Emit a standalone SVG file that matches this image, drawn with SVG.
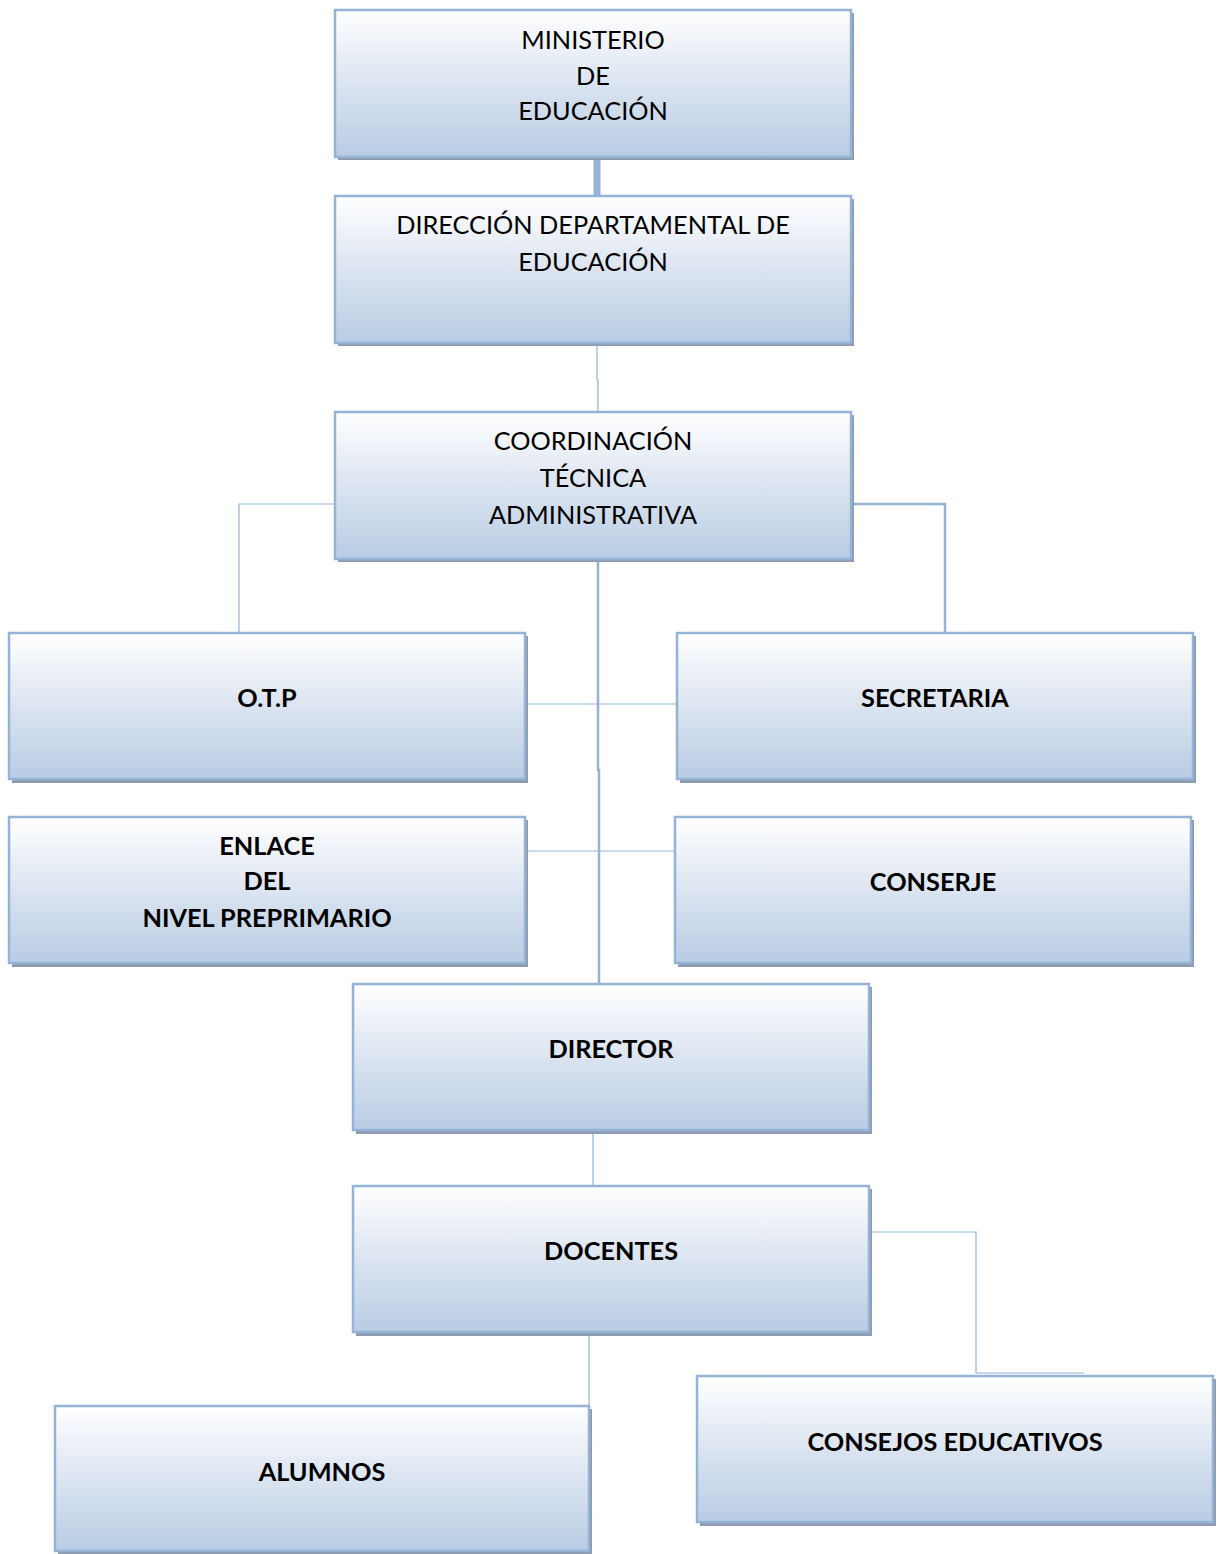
<svg xmlns="http://www.w3.org/2000/svg" width="1218" height="1554" viewBox="0 0 1218 1554">
<defs>
<linearGradient id="g" x1="0" y1="0" x2="0" y2="1">
<stop offset="0" stop-color="#ffffff"/>
<stop offset="0.45" stop-color="#dfe7f2"/>
<stop offset="1" stop-color="#b8cce4"/>
</linearGradient>
</defs>
<style>
.sh{fill:#8e9cb1}
.bx{fill:url(#g);stroke:#95b3d7;stroke-width:2.5}
.t{font-family:Lato,"Liberation Sans",sans-serif;font-size:25.3px;fill:#000;text-anchor:middle}
.b{font-weight:bold}
.c{fill:none;stroke:#95b3d7;stroke-width:1.2}
.c2{fill:none;stroke:#95b3d7;stroke-width:2.5}
</style>
<g id="connectors">
<path d="M597 158V197" fill="none" stroke="#95b3d7" stroke-width="7"/>
<path class="c" d="M597 345V380H598V412"/>
<path class="c" d="M335 504H239V633"/>
<path class="c2" d="M853 504H945V633"/>
<path class="c2" d="M598 561V770H599V984"/>
<path class="c" d="M527 704H677"/>
<path class="c" d="M527 851H675"/>
<path class="c" d="M593 1133V1186"/>
<path class="c" d="M589 1335V1406"/>
<path class="c" d="M871 1232H976V1373H1084"/>
</g>
<g id="n1"><rect class="sh" x="338" y="13" width="516" height="147"/><rect class="bx" x="335" y="10" width="516" height="147"/>
<text class="t" x="593" y="49">MINISTERIO</text><text class="t" x="593" y="85">DE</text><text class="t" x="593" y="120">EDUCACIÓN</text></g>
<g id="n2"><rect class="sh" x="338" y="199" width="516" height="147"/><rect class="bx" x="335" y="196" width="516" height="147"/>
<text class="t" x="593" y="234">DIRECCIÓN DEPARTAMENTAL DE</text><text class="t" x="593" y="271">EDUCACIÓN</text></g>
<g id="n3"><rect class="sh" x="338" y="415" width="516" height="147"/><rect class="bx" x="335" y="412" width="516" height="147"/>
<text class="t" x="593" y="450">COORDINACIÓN</text><text class="t" x="593" y="487">TÉCNICA</text><text class="t" x="593" y="524">ADMINISTRATIVA</text></g>
<g id="n4"><rect class="sh" x="12" y="636" width="516" height="147"/><rect class="bx" x="9" y="633" width="516" height="146"/>
<text class="t b" x="267" y="707">O.T.P</text></g>
<g id="n5"><rect class="sh" x="680" y="636" width="516" height="147"/><rect class="bx" x="677" y="633" width="516" height="146"/>
<text class="t b" x="935" y="707">SECRETARIA</text></g>
<g id="n6"><rect class="sh" x="12" y="820" width="516" height="147"/><rect class="bx" x="9" y="817" width="516" height="146"/>
<text class="t b" x="267" y="855">ENLACE</text><text class="t b" x="267" y="890">DEL</text><text class="t b" x="267" y="927">NIVEL PREPRIMARIO</text></g>
<g id="n7"><rect class="sh" x="678" y="820" width="516" height="147"/><rect class="bx" x="675" y="817" width="516" height="146"/>
<text class="t b" x="933" y="891">CONSERJE</text></g>
<g id="n8"><rect class="sh" x="356" y="987" width="516" height="147"/><rect class="bx" x="353" y="984" width="516" height="146"/>
<text class="t b" x="611" y="1058">DIRECTOR</text></g>
<g id="n9"><rect class="sh" x="356" y="1189" width="516" height="147"/><rect class="bx" x="353" y="1186" width="516" height="146"/>
<text class="t b" x="611" y="1260">DOCENTES</text></g>
<g id="n10"><rect class="sh" x="58" y="1409" width="534" height="145"/><rect class="bx" x="55" y="1406" width="534" height="145"/>
<text class="t b" x="322" y="1481">ALUMNOS</text></g>
<g id="n11"><rect class="sh" x="700" y="1379" width="516" height="147"/><rect class="bx" x="697" y="1376" width="516" height="146"/>
<text class="t b" x="955" y="1451">CONSEJOS EDUCATIVOS</text></g>
</svg>
